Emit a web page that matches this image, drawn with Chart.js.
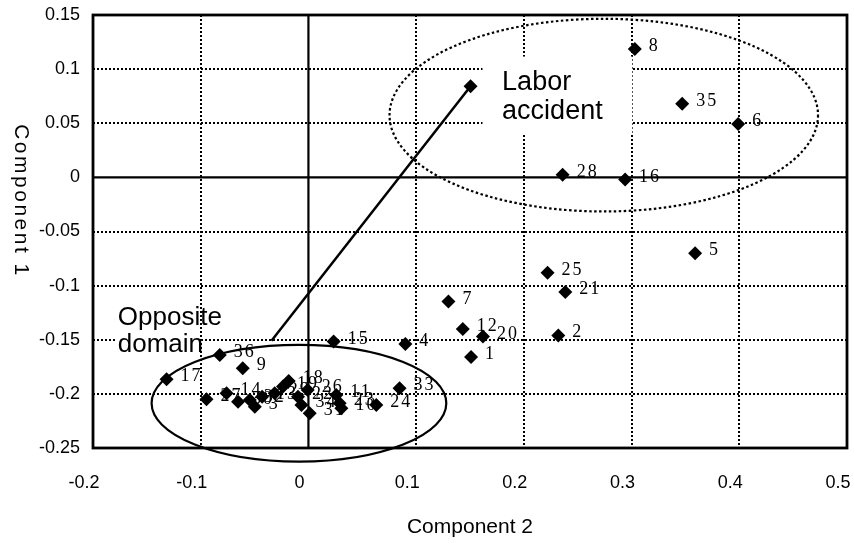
<!DOCTYPE html>
<html>
<head>
<meta charset="utf-8" />
<script src="https://cdn.jsdelivr.net/npm/chart.js@4.4.0/dist/chart.umd.min.js"></script>
<style>
  body { margin: 0; background: #fff; }
  #wrap { width: 854px; height: 543px; }
</style>
</head>
<body>
<div id="wrap"><canvas id="pca"></canvas></div>
<script>
// case numbers, component 2 (x) and component 1 (y)
const pointLabels = ["8", "35", "6", "28", "16", "5", "25", "21", "7", "12", "20", "2", "1", "15", "4", "33", "24",
  "17", "9", "36", "27", "14", "30", "32", "3", "13", "29", "19", "18", "22", "34", "31", "26", "11", "23", "10"];
const comp2 = [0.303, 0.347, 0.399, 0.236, 0.294, 0.359, 0.222, 0.2385, 0.130, 0.1433, 0.162, 0.232, 0.151, 0.0234, 0.090, 0.0846, 0.063,
  -0.1317, -0.061, -0.0823, -0.0946, -0.076, -0.0653, -0.0544, -0.0498, -0.043, -0.0313, -0.0236, -0.0183, -0.0097, -0.0065, 0.0012, -0.0007, 0.0259, 0.029, 0.0306];
const comp1 = [0.1187, 0.068, 0.0494, 0.0025, -0.002, -0.070, -0.088, -0.106, -0.1147, -0.140, -0.147, -0.146, -0.166, -0.1517, -0.154, -0.1948, -0.2102,
  -0.1864, -0.1763, -0.164, -0.205, -0.1994, -0.2072, -0.2056, -0.2118, -0.2026, -0.1994, -0.1933, -0.188, -0.2026, -0.2102, -0.2179, -0.1964, -0.201, -0.2087, -0.2133];

// line from the labor accident centroid towards the opposite domain
const linkX = [0.1505, -0.0343];
const linkY = [0.0841, -0.151];

const xTickLabels = ["-0.2", "-0.1", "0", "0.1", "0.2", "0.3", "0.4", "0.5"];
const yTickLabels = ["-0.25", "-0.2", "-0.15", "-0.1", "-0.05", "0", "0.05", "0.1", "0.15"];

// ellipses: centre x, centre y, radius x, radius y (data units)
const laborEllipse = [0.2742, 0.0575, 0.1989, 0.089];
const oppositeEllipse = [-0.0088, -0.2087, 0.1368, 0.0539];

const FONT = '"Liberation Sans", Arial, sans-serif';

const overlay = {
  id: 'overlay',
  beforeDatasetsDraw(chart) {
    const { ctx, chartArea: a, scales: { x, y } } = chart;
    const px = v => x.getPixelForValue(v);
    const py = v => y.getPixelForValue(v);
    ctx.save();

    // white boxes behind the two captions (they hide the grid)
    ctx.fillStyle = '#fff';
    ctx.fillRect(px(0.1616), py(0.1116), px(0.3007) - px(0.1616), py(0.0395) - py(0.1116));
    ctx.fillRect(px(-0.1778), py(-0.1131), px(-0.1008) - px(-0.1778), py(-0.1667) - py(-0.1131));

    // zero lines and frame
    ctx.strokeStyle = '#000';
    ctx.lineWidth = 2.2;
    ctx.beginPath();
    ctx.moveTo(px(0), a.top); ctx.lineTo(px(0), a.bottom);
    ctx.moveTo(a.left, py(0)); ctx.lineTo(a.right, py(0));
    ctx.stroke();
    ctx.lineWidth = 2.8;
    ctx.strokeRect(a.left, a.top, a.right - a.left, a.bottom - a.top);

    // ellipses
    const ell = (e) => {
      ctx.beginPath();
      ctx.ellipse(px(e[0]), py(e[1]), px(e[0] + e[2]) - px(e[0]), py(e[1]) - py(e[1] + e[3]), 0, 0, Math.PI * 2);
      ctx.stroke();
    };
    ctx.lineWidth = 2.2;
    ctx.setLineDash([2.5, 2.5]);
    ell(laborEllipse);
    ctx.setLineDash([]);
    ell(oppositeEllipse);

    // point numbers (markers are drawn over them)
    ctx.fillStyle = '#000';
    ctx.font = '18px "Liberation Serif", "Times New Roman", serif';
    ctx.letterSpacing = '2px';
    ctx.textAlign = 'left';
    ctx.textBaseline = 'alphabetic';
    pointLabels.forEach((t, i) => {
      ctx.fillText(t, px(comp2[i]) + 14, py(comp1[i]) + 2);
    });

    // captions
    ctx.letterSpacing = '0px';
    ctx.font = '27px ' + FONT;
    ctx.fillText('Labor', px(0.1798), py(0.0805));
    ctx.fillText('accident', px(0.1798), py(0.054));
    ctx.font = '26px ' + FONT;
    ctx.fillText('Opposite', px(-0.177), py(-0.1362));
    ctx.fillText('domain', px(-0.177), py(-0.1609));
    ctx.restore();
  },
  afterDraw(chart) {
    const { ctx, chartArea: a } = chart;
    ctx.save();
    ctx.fillStyle = '#000';
    ctx.font = '21px ' + FONT;
    ctx.textAlign = 'center';
    ctx.textBaseline = 'middle';
    ctx.fillText('Component 2', (a.left + a.right) / 2, 527);
    ctx.translate(21, 201);
    ctx.rotate(Math.PI / 2);
    ctx.letterSpacing = '2.5px';
    ctx.fillText('Component 1', 0, 0);
    ctx.restore();
  }
};

const gridColor = (c) => (Math.abs(c.tick.value) < 1e-9 ? 'rgba(0,0,0,0)' : '#000');

new Chart(document.getElementById('pca'), {
  type: 'scatter',
  data: {
    datasets: [
      {
        data: comp2.map((v, i) => ({ x: v, y: comp1[i] })),
        pointStyle: 'rectRot',
        pointRadius: 7,
        backgroundColor: '#000',
        borderWidth: 0
      },
      {
        data: linkX.map((v, i) => ({ x: v, y: linkY[i] })),
        showLine: true,
        borderColor: '#000',
        borderWidth: 2.5,
        pointStyle: 'rectRot',
        pointRadius: [7, 0],
        backgroundColor: '#000',
        pointBorderWidth: 0
      }
    ]
  },
  options: {
    responsive: true,
    maintainAspectRatio: false,
    animation: false,
    events: [],
    layout: { padding: { left: 0, top: 15, right: 6, bottom: 0 } },
    plugins: { legend: { display: false }, tooltip: { enabled: false } },
    scales: {
      x: {
        type: 'linear',
        min: -0.2,
        max: 0.5,
        ticks: {
          stepSize: 0.1,
          autoSkip: false,
          maxRotation: 0,
          padding: 24,
          labelOffset: -9,
          color: '#000',
          font: { family: FONT, size: 18 },
          callback: (v) => xTickLabels[Math.round((v + 0.2) / 0.1)]
        },
        grid: { color: gridColor, lineWidth: 2, drawTicks: false },
        border: { display: false, dash: [2, 2] },
        afterFit: (s) => { s.height = 95; s.paddingLeft = 0; s.paddingRight = 0; }
      },
      y: {
        type: 'linear',
        min: -0.25,
        max: 0.15,
        ticks: {
          stepSize: 0.05,
          autoSkip: false,
          padding: 13,
          color: '#000',
          font: { family: FONT, size: 18 },
          callback: (v) => yTickLabels[Math.round((v + 0.25) / 0.05)]
        },
        grid: { color: gridColor, lineWidth: 2, drawTicks: false },
        border: { display: false, dash: [2, 2] },
        afterFit: (s) => { s.width = 93; s.paddingTop = 0; s.paddingBottom = 0; }
      }
    }
  },
  plugins: [overlay]
});
</script>
</body>
</html>
